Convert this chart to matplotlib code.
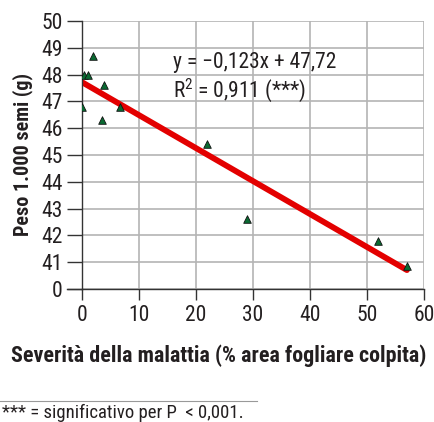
import matplotlib.pyplot as plt
import matplotlib.lines as mlines
import numpy as np

# severity (% leaf area) vs weight of 1000 seeds (g)
severity = [0, 0.3, 1, 2, 3.5, 3.9, 6.7, 21.9, 29, 52, 57]
seed_weight = [46.8, 48.0, 48.0, 48.7, 46.3, 47.6, 46.8, 45.4, 42.6, 41.8, 40.85]

slope = -0.123
intercept = 47.72
fit_x = [0, 57]

y_ticks = [40, 41, 42, 43, 44, 45, 46, 47, 48, 49, 50]
y_ticklabels = ['0', '41', '42', '43', '44', '45', '46', '47', '48', '49', '50']
x_ticks = [0, 10, 20, 30, 40, 50, 60]

plt.rcParams['font.family'] = ['Roboto Condensed', 'DejaVu Sans']
plt.rcParams['mathtext.fontset'] = 'custom'
plt.rcParams['mathtext.rm'] = 'Roboto Condensed'

text_col = '#231f20'
axis_col = '#333333'
grid_col = '#b4b4b4'

fig = plt.figure(figsize=(4.34, 4.22), dpi=100)
ax = fig.add_axes([0.189, 0.315, 0.788, 0.635])

ax.set_xlim(0, 60)
ax.set_ylim(40, 50)
ax.set_xticks(x_ticks)
ax.set_yticks(y_ticks)
ax.set_yticklabels(y_ticklabels)

for side in ['top', 'right']:
    ax.spines[side].set_visible(False)
for side in ['left', 'bottom']:
    ax.spines[side].set_color(axis_col)
    ax.spines[side].set_linewidth(1.0)

ax.tick_params(axis='y', length=11, width=1.0, color=axis_col, labelsize=15.5, pad=3)
ax.tick_params(axis='x', length=8, width=1.0, color=axis_col, labelsize=15.5, pad=3.5)
for lab in ax.get_xticklabels() + ax.get_yticklabels():
    lab.set_color(text_col)

ax.set_axisbelow(True)
ax.grid(True, color=grid_col, linewidth=1.2)

# extend bottom line left to the tick ends
fig.add_artist(mlines.Line2D([67 / 434, 0.189], [0.315, 0.315], color=axis_col, linewidth=1.0))

fx = np.array(fit_x)
ax.plot(fx, slope * fx + intercept, color='#e30000', linewidth=4.2, solid_capstyle='round', zorder=2)
ax.scatter(severity, seed_weight, marker='^', s=30, color='#0a6a32', edgecolors='#111111',
           linewidths=0.6, zorder=3)

ax.text(0.265, 0.847, 'y = \u22120,123x + 47,72', transform=ax.transAxes, fontsize=15.5,
        color=text_col, va='center')
ax.text(0.265, 0.742, 'R$^{2}$ = 0,911 (***)', transform=ax.transAxes, fontsize=15.5,
        color=text_col, va='center')

fig.text(0.053, 0.635, 'Peso 1.000 semi (g)', rotation=90, fontsize=14.5, fontweight='bold',
         color=text_col, ha='center', va='center')
fig.text(0.503, 0.156, 'Severit\u00e0 della malattia (% area fogliare colpita)', fontsize=15.8,
         fontweight='bold', color=text_col, ha='center', va='center')

fig.add_artist(mlines.Line2D([0.0, 257 / 434], [0.05, 0.05], color='#999999', linewidth=0.8))
fig.text(0.005, 0.021, '*** = significativo per P  < 0,001.', fontsize=13.5, color=text_col,
         ha='left', va='center')

plt.savefig('out.png', dpi=100)
